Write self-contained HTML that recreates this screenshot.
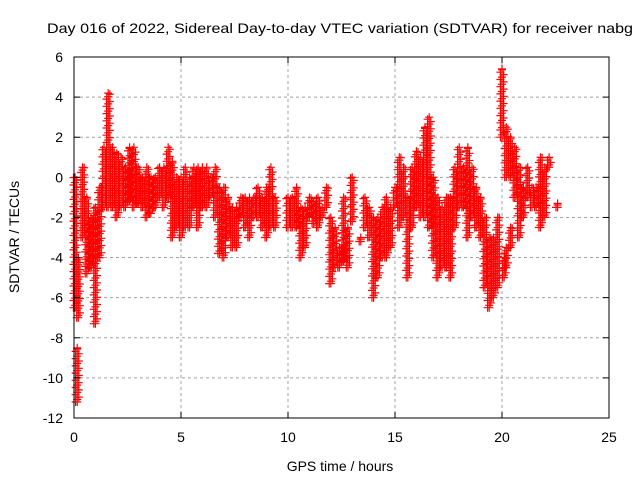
<!DOCTYPE html>
<html><head><meta charset="utf-8"><style>body{margin:0;background:#fff}svg{display:block;font-family:"Liberation Sans",sans-serif}</style></head>
<body>
<svg id="chart" width="640" height="480" viewBox="0 0 640 480">
<rect width="640" height="480" fill="#fff"/>
<text x="340" y="33" font-size="14" text-anchor="middle" textLength="586" lengthAdjust="spacingAndGlyphs">Day 016 of 2022, Sidereal Day-to-day VTEC variation (SDTVAR) for receiver nabg</text>
<text x="340" y="471" font-size="14" text-anchor="middle">GPS time / hours</text>
<text transform="translate(19,237) rotate(-90)" font-size="14" text-anchor="middle">SDTVAR / TECUs</text>
<g id="grid"></g><g id="marks"></g><g id="axes"></g>
</svg>
<script>
const xTicks=[0,5,10,15,20,25];
const yTicks=[6,4,2,0,-2,-4,-6,-8,-10,-12];
const times=[0.05,0.15,0.2,0.4,0.6,0.8,1.0,1.2,1.4,1.6,1.8,2.0,2.2,2.4,2.6,2.8,3.0,3.2,3.4,3.6,3.8,4.0,4.2,4.4,4.6,4.8,5.0,5.2,5.4,5.6,5.8,6.0,6.2,6.4,6.6,6.8,7.0,7.2,7.4,7.6,7.8,8.0,8.2,8.4,8.6,8.8,9.0,9.2,9.4,10.0,10.2,10.4,10.6,10.8,11.0,11.2,11.4,11.6,11.8,12.0,12.2,12.4,12.6,12.8,13.0,13.4,13.6,13.8,14.0,14.2,14.4,14.6,14.8,15.0,15.2,15.4,15.6,15.8,16.0,16.2,16.4,16.6,16.8,17.0,17.2,17.4,17.6,17.8,18.0,18.2,18.4,18.6,18.8,19.0,19.2,19.4,19.6,19.8,20.0,20.1,20.2,20.2,20.4,20.4,20.6,20.8,21.0,21.2,21.4,21.6,21.8,22.0,22.2,22.6];
const lows=[-6.5,-11.2,-7,-3,-4.8,-4.5,-7.3,-4,-1.5,-1.5,-1.5,-2,-1.5,-1.5,-1.2,-1.5,-1.3,-1.5,-2,-1.8,-1.5,-1,-1.5,-1,-3,-2.5,-3,-2.5,-2.5,-1.5,-2.5,-1.5,-1.5,-1,-2,-3.8,-4,-3,-3.5,-3.5,-2,-2.5,-3,-2,-2,-2.5,-3,-2.5,-2.5,-2.5,-2.5,-2.5,-4,-3.5,-2,-2.3,-2.5,-2,-1.5,-5.3,-4.5,-4.5,-4.2,-4.5,-2.2,-3.2,-2.5,-3,-6,-5,-4,-4,-3.5,-1.5,-2.5,-2,-5,-2.5,-1.5,-2,-2,-2.5,-4,-5,-4.5,-4.5,-5,-2.5,-1.5,-1.5,-3,-2,-2.5,-3,-5.5,-6.5,-6,-5.5,2,-5,0,-4.5,0,-3.5,-1,-3,-2,-1,-1.5,-1.5,-2.5,-2,0.5,-1.5];
const highs=[0,-8.5,-4,0.5,-1,-2,-1.5,-0.5,1.5,4.2,1.5,1.2,1,0.5,1.5,1.5,0.5,0,0.5,0,0,0.5,0.5,1.5,0.8,0,0,0.5,0,0.5,0.5,0.5,0.5,0,0.5,-0.5,-0.5,-1,-1.5,-1.5,-1,-1,-1,-1,-0.5,-1,-0.5,0.5,-1,-1,-1,-0.5,-1.5,-1.5,-1,-1.2,-1,-1.5,-0.5,-2,-2.5,-3.5,-1,-2.5,0,-3,-1,-1.5,-2,-2,-1.5,-1,-1.5,-0.5,1,0.5,-1,0.5,1.3,1,2.5,3,0,-1,-1.5,-1,-1,0.5,1.5,0.5,1.5,0.5,-0.5,-1,-2,-3,-3,-2,5.4,-4,2.5,-3.5,2,-2.5,1.5,0.5,-0.5,0.5,-0.5,-0.5,1,0.5,1,-1.3];
const X0=74,X1=609,Y0=418,Y1=57;
const xs=t=>X0+(t-0)/(25-0)*(X1-X0);
const ys=v=>Y0-(v+12)/(18)*(Y0-Y1);
const NS='http://www.w3.org/2000/svg';
function mk(tag,attrs,parent){const e=document.createElementNS(NS,tag);for(const k in attrs)e.setAttribute(k,attrs[k]);parent.appendChild(e);return e;}
const grid=document.getElementById('grid'),axes=document.getElementById('axes'),marks=document.getElementById('marks');
xTicks.forEach(t=>{const x=xs(t);
 if(t>0&&t<25){const g=mk('line',{x1:x,x2:x,y1:Y1,y2:Y0,stroke:'#a0a0a0','stroke-dasharray':'3,3'},grid);
 
 }
 mk('line',{x1:x,x2:x,y1:Y0,y2:Y0-6,stroke:'#000'},axes);
 mk('line',{x1:x,x2:x,y1:Y1,y2:Y1+6,stroke:'#000'},axes);
 const l=mk('text',{x:x,y:Y0+24,'font-size':14,'text-anchor':'middle'},axes);l.textContent=t;
 
 
});
yTicks.forEach(v=>{const y=ys(v);
 if(v>-12&&v<6){const g=mk('line',{x1:X0,x2:X1,y1:y,y2:y,stroke:'#a0a0a0','stroke-dasharray':'3,3'},grid);
 
 }
 mk('line',{x1:X0,x2:X0+6,y1:y,y2:y,stroke:'#000'},axes);
 mk('line',{x1:X1,x2:X1-6,y1:y,y2:y,stroke:'#000'},axes);
 const l=mk('text',{x:X0-11,y:y+5,'font-size':14,'text-anchor':'end'},axes);l.textContent=v;
 
 
});
const frame=mk('rect',{x:X0,y:Y1,width:X1-X0,height:Y0-Y1,fill:'none',stroke:'#000'},axes);


let d='';
function plus(x,y){d+=`M${(x-4).toFixed(1)},${y.toFixed(1)}h8M${x.toFixed(1)},${(y-4).toFixed(1)}v8`;}
times.forEach((t,i)=>{const x=xs(t);const lo=lows[i],hi=highs[i];
 let k=0;
 for(let v=lo;v<=hi+1e-6;v+=0.12){plus(x+((k%3)-1)*1.6,ys(v));k++;}
 plus(x,ys(hi));plus(x,ys(lo));
});
const p=mk('path',{d:d,stroke:'#ff0000','stroke-width':1.2,fill:'none'},marks);


</script>
</body></html>
